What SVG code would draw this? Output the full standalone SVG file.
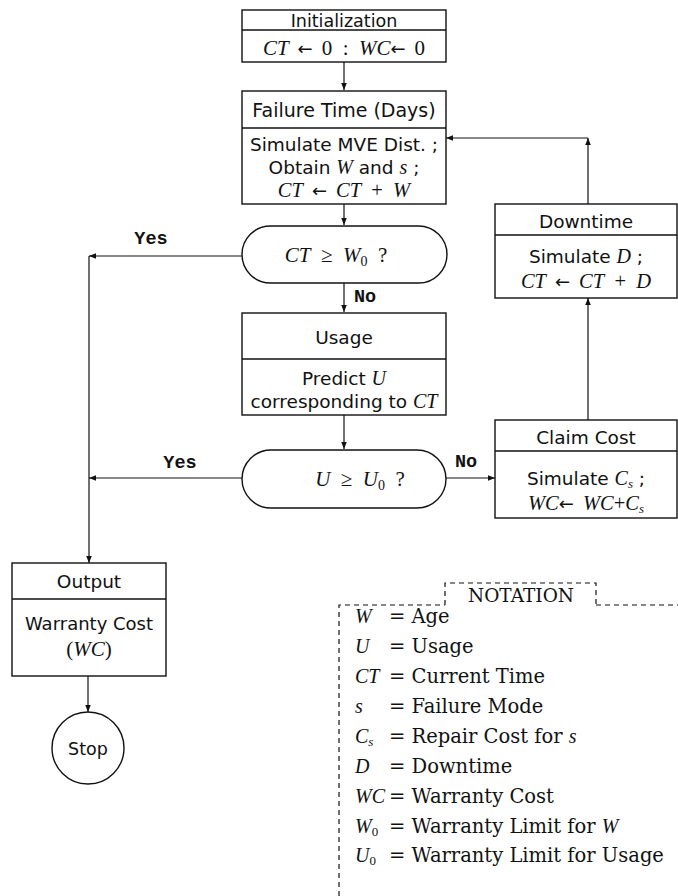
<svg xmlns="http://www.w3.org/2000/svg" width="678" height="896" viewBox="0 0 678 896">
<defs>
<marker id="ah" viewBox="0 0 10 10" refX="10" refY="5" markerWidth="7" markerHeight="7" orient="auto" markerUnits="userSpaceOnUse">
<path d="M0,1 L10,5 L0,9 z" fill="#111"/>
</marker>
</defs>
<style>
.box{fill:#fff;stroke:#111;stroke-width:1.4}
.ln{fill:none;stroke:#111;stroke-width:1.3}
.con{fill:none;stroke:#111;stroke-width:1.2;marker-end:url(#ah)}
.sf{font-family:"DejaVu Sans","Open Sans",sans-serif;fill:#111;text-anchor:middle}
.m{font-family:"Liberation Serif",serif;font-style:italic}
.r{font-family:"Liberation Serif",serif;font-style:normal}
.ar{font-family:"DejaVu Sans",sans-serif;font-style:normal}
.lab{font-family:"Liberation Mono",monospace;font-weight:bold;fill:#111;text-anchor:middle}
.nt{font-family:"DejaVu Serif",serif;fill:#111}
.dash{fill:none;stroke:#111;stroke-width:1.2;stroke-dasharray:5,4}
</style>
<g id="connectors">
<path class="con" d="M344,62 V90"/>
<path class="con" d="M344,204 V225"/>
<path class="con" d="M344,283 V312"/>
<path class="con" d="M344,415 V449"/>
<path class="con" d="M242,256 H89"/>
<path class="con" d="M89,256 V563"/>
<path class="con" d="M242,478 H89"/>
<path class="con" d="M446,478 H495"/>
<path class="con" d="M588,420 V298"/>
<path class="con" d="M588,204 V138"/>
<path class="con" d="M588,138 H446"/>
<path class="con" d="M88,676 V712"/>
</g>
<g id="labels">
<text class="lab" x="151" y="244" font-size="18.5">Yes</text>
<text class="lab" x="365" y="302" font-size="18.5">No</text>
<text class="lab" x="180" y="468" font-size="18.5">Yes</text>
<text class="lab" x="466" y="467" font-size="18.5">No</text>
</g>
<g id="init">
<rect class="box" x="242" y="10" width="204" height="52"/>
<line class="ln" x1="242" y1="30" x2="446" y2="30"/>
<text class="sf" x="344" y="27" font-size="17.5">Initialization</text>
<text class="sf" x="344" y="55" font-size="21"><tspan class="m">CT</tspan><tspan class="ar" font-size="18">&#8194;←&#8194;</tspan><tspan class="r">0&#8194;:&#8194;</tspan><tspan class="m">WC</tspan><tspan class="ar" font-size="18">←&#8194;</tspan><tspan class="r">0</tspan></text>
</g>
<g id="failure">
<rect class="box" x="242" y="91" width="204" height="113"/>
<line class="ln" x1="242" y1="128" x2="446" y2="128"/>
<text class="sf" x="344" y="117" font-size="19">Failure Time (Days)</text>
<text class="sf" x="344" y="151" font-size="18.5">Simulate MVE Dist. ;</text>
<text class="sf" x="344" y="174" font-size="18.5">Obtain <tspan class="m" font-size="20">W</tspan> and <tspan class="m" font-size="20">s</tspan> ;</text>
<text class="sf" x="344" y="197" font-size="20.5"><tspan class="m">CT</tspan><tspan class="ar" font-size="18">&#8194;←&#8194;</tspan><tspan class="m">CT</tspan><tspan class="r">&#8194;+&#8194;</tspan><tspan class="m">W</tspan></text>
</g>
<g id="dec1">
<rect class="box" x="242" y="226" width="205" height="57" rx="28.5"/>
<text class="sf" x="336" y="262" font-size="21"><tspan class="m">CT</tspan><tspan class="r">&#8194;≥&#8194;</tspan><tspan class="m">W</tspan><tspan class="r" font-size="14" dy="4">0</tspan><tspan class="r" dy="-4">&#8194;?</tspan></text>
</g>
<g id="usage">
<rect class="box" x="242" y="313" width="204" height="102"/>
<line class="ln" x1="242" y1="359" x2="446" y2="359"/>
<text class="sf" x="344" y="344" font-size="18.5">Usage</text>
<text class="sf" x="344" y="385" font-size="18.5">Predict <tspan class="m" font-size="20">U</tspan></text>
<text class="sf" x="344" y="408" font-size="18.5">corresponding to <tspan class="m" font-size="20">CT</tspan></text>
</g>
<g id="dec2">
<rect class="box" x="242" y="450" width="204" height="58" rx="29"/>
<text class="sf" x="360" y="486" font-size="21"><tspan class="m">U</tspan><tspan class="r">&#8194;≥&#8194;</tspan><tspan class="m">U</tspan><tspan class="r" font-size="14" dy="4">0</tspan><tspan class="r" dy="-4">&#8194;?</tspan></text>
</g>
<g id="claim">
<rect class="box" x="495" y="420" width="182" height="98"/>
<line class="ln" x1="495" y1="451" x2="677" y2="451"/>
<text class="sf" x="586" y="444" font-size="18.5">Claim Cost</text>
<text class="sf" x="586" y="485" font-size="18.5">Simulate <tspan class="m" font-size="20">C</tspan><tspan class="m" font-size="13" dy="3">s</tspan><tspan dy="-3"> ;</tspan></text>
<text class="sf" x="586" y="510" font-size="20.5"><tspan class="m">WC</tspan><tspan class="ar" font-size="18">←&#8194;</tspan><tspan class="m">WC</tspan><tspan class="r">+</tspan><tspan class="m">C</tspan><tspan class="m" font-size="13" dy="3">s</tspan></text>
</g>
<g id="downtime">
<rect class="box" x="495" y="204" width="182" height="94"/>
<line class="ln" x1="495" y1="235" x2="677" y2="235"/>
<text class="sf" x="586" y="228" font-size="18.5">Downtime</text>
<text class="sf" x="586" y="263" font-size="18.5">Simulate <tspan class="m" font-size="20">D</tspan> ;</text>
<text class="sf" x="586" y="288" font-size="20.5"><tspan class="m">CT</tspan><tspan class="ar" font-size="18">&#8194;←&#8194;</tspan><tspan class="m">CT</tspan><tspan class="r">&#8194;+&#8194;</tspan><tspan class="m">D</tspan></text>
</g>
<g id="output">
<rect class="box" x="12" y="563" width="154" height="113"/>
<line class="ln" x1="12" y1="599" x2="166" y2="599"/>
<text class="sf" x="89" y="588" font-size="18.5">Output</text>
<text class="sf" x="89" y="630" font-size="18">Warranty Cost</text>
<text class="sf" x="89" y="656" font-size="21"><tspan class="r">(</tspan><tspan class="m">WC</tspan><tspan class="r">)</tspan></text>
</g>
<g id="stop">
<circle class="box" cx="88" cy="748" r="36"/>
<text class="sf" x="88" y="755" font-size="17.5">Stop</text>
</g>
<g id="notation">
<path class="dash" d="M339,896 V605 H445 M596,605 H680"/>
<path class="dash" d="M445,605 V583 H596 V605"/>
<text class="nt" x="521" y="602" font-size="18.5" text-anchor="middle">NOTATION</text>
<g class="nt" font-size="19.5">
<text x="355" y="623" font-size="20"><tspan class="m">W</tspan></text><text x="389" y="623">= Age</text>
<text x="355" y="653" font-size="20"><tspan class="m">U</tspan></text><text x="389" y="653">= Usage</text>
<text x="355" y="683" font-size="20"><tspan class="m">CT</tspan></text><text x="389" y="683">= Current Time</text>
<text x="355" y="713" font-size="20"><tspan class="m">s</tspan></text><text x="389" y="713">= Failure Mode</text>
<text x="355" y="743" font-size="20"><tspan class="m">C</tspan><tspan class="m" font-size="13" dy="3">s</tspan></text><text x="389" y="743">= Repair Cost for <tspan class="m" font-size="20">s</tspan></text>
<text x="355" y="773" font-size="20"><tspan class="m">D</tspan></text><text x="389" y="773">= Downtime</text>
<text x="355" y="803" font-size="20"><tspan class="m">WC</tspan></text><text x="389" y="803">= Warranty Cost</text>
<text x="355" y="833" font-size="20"><tspan class="m">W</tspan><tspan class="r" font-size="13" dy="3">0</tspan></text><text x="389" y="833">= Warranty Limit for <tspan class="m" font-size="20">W</tspan></text>
<text x="355" y="862" font-size="20"><tspan class="m">U</tspan><tspan class="r" font-size="13" dy="3">0</tspan></text><text x="389" y="862">= Warranty Limit for Usage</text>
</g>
</g>
</svg>
